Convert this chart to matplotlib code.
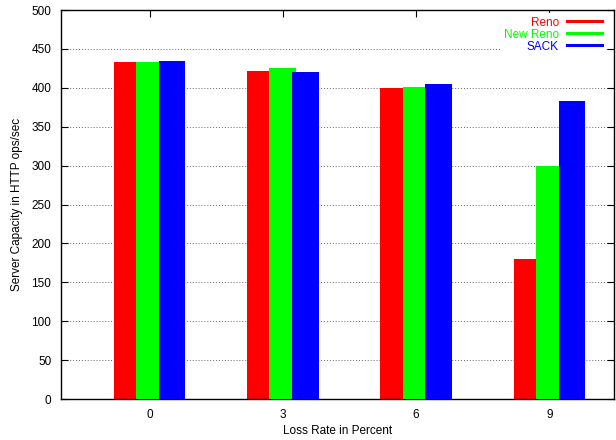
import numpy as np
import matplotlib
matplotlib.use("Agg")
import matplotlib.pyplot as plt

plt.rcParams["font.family"] = ["Liberation Sans", "DejaVu Sans"]

loss_rates = ["0", "3", "6", "9"]
reno = [433, 421, 400, 180]
new_reno = [433, 426, 401, 299]
sack = [435, 420, 405, 383]
series = [("Reno", reno, "#ff0000"), ("New Reno", new_reno, "#00ff00"), ("SACK", sack, "#0000ff")]

fig = plt.figure(figsize=(6.16, 4.4), dpi=100)
ax = fig.add_axes([61 / 616, 1 - 399 / 440, (614 - 61) / 616, (399 - 10) / 440])

x = np.arange(len(loss_rates))
off = 0.169; w = 0.2
for i, (lab, vals, c) in enumerate(series):
    ax.bar(x + (i - 1) * off, vals, width=w, color=c, zorder=2 + i)
    ax.plot([], [], color=c, lw=2.2, label=lab)

ax.set_xlim(-0.664, 3.485)
ax.set_ylim(0, 500)
ax.set_yticks(np.arange(0, 501, 50))
ax.set_xticks(x); ax.set_xticklabels(loss_rates)
ax.tick_params(direction="in", length=5, width=0.8, top=True, right=True, labelsize=8.5, pad=7)
for v in range(50, 500, 50):
    ax.axhline(v, color="#666666", ls=(0, (1, 2)), lw=0.7, zorder=1)
for s in ax.spines.values():
    s.set_linewidth(1.0)

ax.set_xlabel("Loss Rate in Percent", fontsize=8.5, labelpad=3)
ax.set_ylabel("Server Capacity in HTTP ops/sec", fontsize=8.5, labelpad=6)

leg = ax.legend(loc="upper right", markerfirst=False, labelcolor="linecolor", fontsize=8.5,
                handlelength=3.0, handletextpad=0.7, borderpad=0.3, labelspacing=0.0,
                frameon=True, fancybox=False, edgecolor="none", facecolor="white", framealpha=1,
                borderaxespad=0, bbox_to_anchor=(1 - 8 / 553, 1 - 3 / 389))
for t in leg.get_texts():
    t.set_ha("right")
leg.set_zorder(10)

fig.savefig("out.png", dpi=100)
